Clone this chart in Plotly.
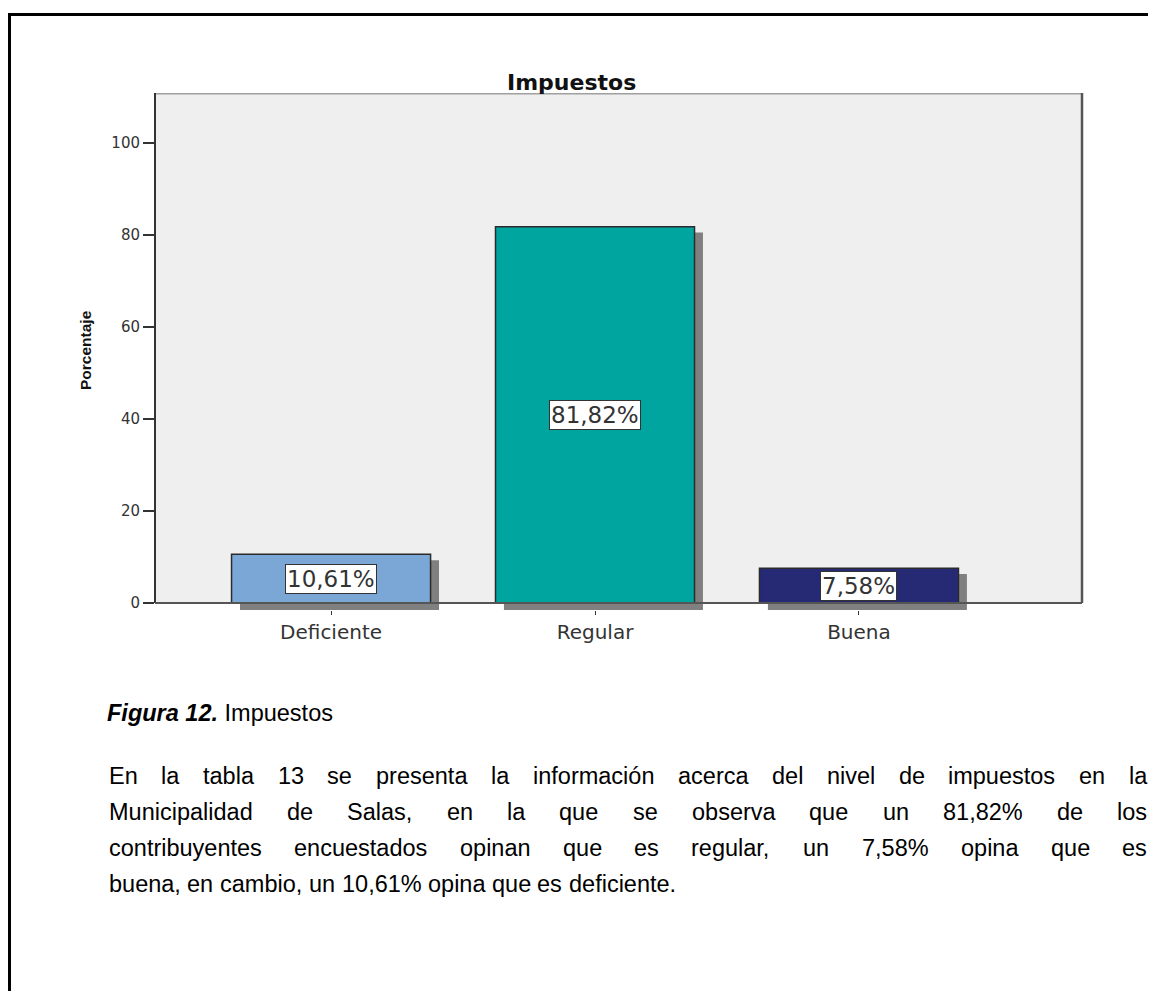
import plotly.graph_objects as go

# Data
categories = ['Deficiente', 'Regular', 'Buena']
percentages = [10.61, 81.82, 7.58]
bar_colors = ['#7BA7D7', '#00A5A0', '#262A75']
y_ticks = [0, 20, 40, 60, 80, 100]

chart_title = 'Impuestos'
y_title = 'Porcentaje'
caption_bold = 'Figura 12.'
caption_rest = ' Impuestos'
paragraph_lines = [
    'En la tabla 13 se presenta la información acerca del nivel de impuestos en la',
    'Municipalidad de Salas, en la que se observa que un 81,82% de los',
    'contribuyentes encuestados opinan que es regular, un 7,58% opina que es',
    'buena, en cambio, un 10,61% opina que es deficiente.',
]

# Geometry in screenshot pixels; the page body adds an 8px margin
BODY = 8
W, H = 1156 - 2 * BODY, 999 - 2 * BODY
PLOT_L, PLOT_R, PLOT_T, PLOT_B = 155, 1082, 93, 610
Y_MIN, Y_MAX = -1.52, 110.87
BAR_W = 0.754
SHADOW_DX = 0.032

TEXT_FONT = 'Liberation Sans, Arial, sans-serif'
TEXT_SIZE = 23.5

# Arial / Liberation Sans advance widths (per em)
ARIAL_W = {
    ' ': .278, ',': .278, '.': .278, '%': .889,
    'a': .556, 'b': .556, 'c': .5, 'd': .556, 'e': .556, 'f': .278, 'g': .556,
    'h': .556, 'i': .222, 'j': .222, 'k': .5, 'l': .222, 'm': .833, 'n': .556,
    'o': .556, 'p': .556, 'q': .556, 'r': .333, 's': .5, 't': .278, 'u': .556,
    'v': .5, 'w': .722, 'x': .5, 'y': .5, 'z': .5, 'ó': .556,
    'E': .667, 'M': .833, 'S': .667,
}


def text_width(s, size):
    return sum(ARIAL_W.get(ch, .556) for ch in s) * size


def px_x(px):
    return (px - PLOT_L) / (PLOT_R - PLOT_L)


def px_y(py):
    return (PLOT_B - py) / (PLOT_B - PLOT_T)


def fmt_pct(v):
    return f'{v:.2f}'.replace('.', ',') + '%'


xs = list(range(len(categories)))

fig = go.Figure()

# drop shadows behind the bars
fig.add_trace(go.Bar(
    x=xs,
    y=[v + 0.2 for v in percentages],
    base=-1.5,
    width=BAR_W,
    offset=-BAR_W / 2 + SHADOW_DX,
    marker=dict(color='#808080', line=dict(width=0)),
    hoverinfo='skip',
))

fig.add_trace(go.Bar(
    x=xs,
    y=percentages,
    width=BAR_W,
    marker=dict(color=bar_colors, line=dict(color='#2b2b2b', width=1.5)),
))

# value labels in white boxes
for i, v in enumerate(percentages):
    fig.add_annotation(
        x=i, y=v / 2, xref='x', yref='y',
        xanchor='center', yanchor='middle',
        text=fmt_pct(v), showarrow=False,
        font=dict(family='DejaVu Sans, sans-serif', size=23, color='#333333'),
        bgcolor='white', bordercolor='#333333', borderwidth=1, borderpad=1,
    )

shapes = [
    # plot background + frame
    dict(type='rect', xref='x domain', yref='y', x0=0, x1=1, y0=0, y1=Y_MAX,
         fillcolor='#efefef', line=dict(width=0), layer='below'),
    dict(type='line', xref='x domain', yref='y', x0=0, x1=1, y0=Y_MAX, y1=Y_MAX,
         line=dict(color='#a0a0a0', width=3)),
    dict(type='line', xref='x domain', yref='y', x0=0, x1=0, y0=0, y1=Y_MAX,
         line=dict(color='#333333', width=2)),
    dict(type='line', xref='x domain', yref='y', x0=1, x1=1, y0=0, y1=Y_MAX,
         line=dict(color='#555555', width=2.5)),
    dict(type='line', xref='x domain', yref='y', x0=0, x1=1, y0=0, y1=0,
         line=dict(color='#555555', width=2)),
    # page border (top and left)
    dict(type='line', xref='paper', yref='paper', x0=px_x(8), x1=px_x(1170),
         y0=px_y(14.5), y1=px_y(14.5), line=dict(color='black', width=3)),
    dict(type='line', xref='paper', yref='paper', x0=px_x(9.5), x1=px_x(9.5),
         y0=px_y(13), y1=px_y(1010), line=dict(color='black', width=3)),
]

# chart title and y axis title
fig.add_annotation(
    x=px_x(571), y=px_y(82), xref='paper', yref='paper',
    xanchor='center', yanchor='middle',
    text=f'<b>{chart_title}</b>', showarrow=False,
    font=dict(family='DejaVu Sans, sans-serif', size=22, color='#111111'),
)
fig.add_annotation(
    x=px_x(85), y=px_y(350), xref='paper', yref='paper',
    xanchor='center', yanchor='middle',
    text=f'<b>{y_title}</b>', showarrow=False, textangle=-90,
    font=dict(family='Liberation Sans Narrow, Arial Narrow, Liberation Sans, sans-serif',
              size=15.5, color='#111111'),
)

# caption
fig.add_annotation(
    x=px_x(106), y=px_y(713), xref='paper', yref='paper',
    xanchor='left', yanchor='middle', borderpad=0,
    text=f'<b><i>{caption_bold}</i></b>{caption_rest}', showarrow=False,
    font=dict(family=TEXT_FONT, size=TEXT_SIZE, color='black'),
)

# justified paragraph, one annotation per word
TEXT_L, TEXT_R = 108, 1146
line_y = [776, 812, 848, 884]
for li, line in enumerate(paragraph_lines):
    words = line.split(' ')
    if li < len(paragraph_lines) - 1:
        total = sum(text_width(w, TEXT_SIZE) for w in words)
        gap = (TEXT_R - TEXT_L - total) / (len(words) - 1)
    else:
        gap = text_width(' ', TEXT_SIZE)
    cx = TEXT_L
    for w in words:
        fig.add_annotation(
            x=px_x(cx), y=px_y(line_y[li]), xref='paper', yref='paper',
            xanchor='left', yanchor='middle', borderpad=0,
            text=w, showarrow=False,
            font=dict(family=TEXT_FONT, size=TEXT_SIZE, color='black'),
        )
        cx += text_width(w, TEXT_SIZE) + gap

fig.update_layout(
    width=W,
    height=H,
    margin=dict(l=PLOT_L - BODY, r=W - (PLOT_R - BODY), t=PLOT_T - BODY, b=H - (PLOT_B - BODY)),
    paper_bgcolor='white',
    plot_bgcolor='white',
    showlegend=False,
    barmode='overlay',
    shapes=shapes,
    xaxis=dict(
        range=[-0.667, 2.845],
        tickvals=xs,
        ticktext=categories,
        ticks='outside', ticklen=4, tickcolor='#333333',
        showgrid=False, zeroline=False, showline=False,
        tickfont=dict(family='DejaVu Sans, sans-serif', size=20, color='#333333'),
    ),
    yaxis=dict(
        range=[Y_MIN, Y_MAX],
        tickvals=y_ticks,
        ticks='outside', ticklen=11, tickwidth=1.5, tickcolor='#333333',
        showgrid=False, zeroline=False, showline=False,
        tickfont=dict(family='DejaVu Sans, sans-serif', size=15, color='#333333'),
    ),
)

fig.write_html('out.html')
